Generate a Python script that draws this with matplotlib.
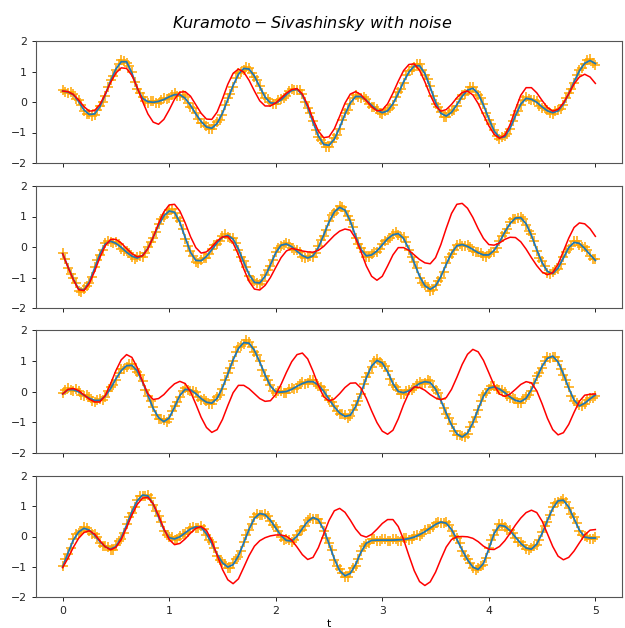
import numpy as np
import matplotlib
matplotlib.use("Agg")
import matplotlib.pyplot as plt

# time axis limits
t_start, t_end = 0.0, 5.0

# ---- panel 1 ----
true1 = [0.36,0.33,0.24,0.02,-0.26,-0.41,-0.39,-0.15,0.24,0.69,
         1.08,1.32,1.32,0.95,0.45,0.12,0.01,-0.01,0.02,0.08,
         0.17,0.24,0.24,0.12,-0.11,-0.39,-0.64,-0.82,-0.86,-0.70,
         -0.37,0.08,0.54,0.91,1.10,1.08,0.85,0.50,0.16,-0.03,
         -0.04,0.07,0.24,0.38,0.42,0.23,-0.17,-0.66,-1.11,-1.39,
         -1.42,-1.22,-0.84,-0.40,-0.03,0.18,0.18,0.06,-0.11,-0.27,
         -0.35,-0.29,-0.06,0.28,0.66,0.98,1.18,1.19,0.93,0.48,
         -0.01,-0.37,-0.46,-0.34,-0.09,0.19,0.39,0.45,0.27,-0.10,
         -0.55,-0.95,-1.17,-1.14,-0.86,-0.45,-0.07,0.12,0.09,-0.01,
         -0.16,-0.29,-0.35,-0.29,-0.07,0.27,0.66,1.02,1.27,1.36,1.26]
# noisy observations on the grid points
obs1 = [0.39,0.30,0.27,0.05,-0.30,-0.38,-0.44,-0.12,0.20,0.73,
        1.05,1.37,1.29,0.99,0.41,0.15,-0.03,0.03,-0.02,0.12,
        0.14,0.28,0.20,0.15,-0.15,-0.35,-0.68,-0.78,-0.90,-0.66,
        -0.41,0.12,0.50,0.95,1.06,1.13,0.81,0.54,0.12,0.01,
        -0.08,0.10,0.20,0.42,0.38,0.27,-0.21,-0.62,-1.15,-1.35,
        -1.47,-1.18,-0.88,-0.36,-0.07,0.22,0.14,0.10,-0.15,-0.23,
        -0.39,-0.25,-0.10,0.32,0.62,1.02,1.14,1.23,0.89,0.52,
        -0.05,-0.33,-0.50,-0.30,-0.13,0.23,0.35,0.49,0.23,-0.06,
        -0.59,-0.91,-1.21,-1.10,-0.90,-0.41,-0.11,0.16,0.05,0.03,
        -0.20,-0.25,-0.39,-0.25,-0.11,0.31,0.62,1.06,1.23,1.40,1.22]
# noisy observations halfway between grid points
obs1_mid = [0.32,0.32,0.11,-0.09,-0.38,-0.45,-0.25,0.01,0.50,0.86,
            1.26,1.33,1.19,0.66,0.30,0.02,0.04,-0.03,0.08,0.09,
            0.24,0.21,0.23,-0.03,-0.21,-0.55,-0.70,-0.89,-0.76,-0.58,
            -0.11,0.27,0.78,0.98,1.16,0.94,0.72,0.28,0.09,-0.08,
            0.05,0.12,0.35,0.38,0.39,0.00,-0.37,-0.93,-1.23,-1.47,
            -1.30,-1.07,-0.58,-0.25,0.12,0.17,0.16,-0.06,-0.15,-0.36,
            -0.30,-0.21,0.15,0.43,0.87,1.05,1.25,1.04,0.75,0.19,
            -0.17,-0.48,-0.37,-0.25,0.09,0.26,0.48,0.34,0.13,-0.36,
            -0.72,-1.12,-1.15,-1.06,-0.62,-0.30,0.07,0.09,0.08,-0.12,
            -0.19,-0.37,-0.30,-0.22,0.14,0.43,0.89,1.12,1.37,1.29]
pred1 = [0.36,0.34,0.25,0.07,-0.15,-0.30,-0.28,-0.08,0.26,0.64,
         0.95,1.12,1.10,0.87,0.48,0.02,-0.39,-0.66,-0.73,-0.57,
         -0.26,0.09,0.32,0.34,0.19,-0.09,-0.37,-0.56,-0.57,-0.33,
         0.10,0.58,0.94,1.08,0.98,0.71,0.36,0.04,-0.13,-0.13,
         -0.03,0.13,0.29,0.41,0.44,0.26,-0.10,-0.56,-0.95,-1.17,
         -1.14,-0.88,-0.47,-0.04,0.26,0.34,0.24,0.04,-0.16,-0.29,
         -0.26,-0.06,0.29,0.68,1.03,1.23,1.25,1.04,0.66,0.23,
         -0.13,-0.30,-0.25,-0.08,0.14,0.31,0.36,0.23,-0.05,-0.42,
         -0.78,-1.06,-1.19,-1.09,-0.74,-0.24,0.22,0.47,0.47,0.30,
         0.05,-0.18,-0.30,-0.24,-0.03,0.27,0.59,0.82,0.91,0.82,0.61]

# ---- panel 2 ----
true2 = [-0.22,-0.65,-1.05,-1.38,-1.41,-1.15,-0.70,-0.23,0.10,0.19,
         0.12,-0.01,-0.17,-0.30,-0.36,-0.28,-0.04,0.32,0.71,1.02,
         1.18,1.14,0.81,0.31,-0.17,-0.44,-0.45,-0.31,-0.09,0.14,
         0.32,0.38,0.26,-0.07,-0.50,-0.90,-1.16,-1.18,-0.96,-0.59,
         -0.19,0.06,0.10,0.01,-0.14,-0.28,-0.36,-0.29,-0.02,0.39,
         0.82,1.15,1.30,1.21,0.85,0.35,-0.08,-0.29,-0.26,-0.13,
         0.07,0.27,0.40,0.44,0.28,-0.07,-0.52,-0.96,-1.27,-1.39,
         -1.28,-0.97,-0.57,-0.20,0.04,0.08,0.02,-0.08,-0.19,-0.26,
         -0.26,-0.11,0.16,0.49,0.77,0.95,0.96,0.76,0.38,-0.09,
         -0.51,-0.80,-0.87,-0.69,-0.36,-0.02,0.15,0.12,-0.05,-0.25,-0.44]
obs2 = [-0.19,-0.70,-1.01,-1.43,-1.37,-1.19,-0.66,-0.27,0.14,0.15,
        0.16,-0.05,-0.13,-0.34,-0.32,-0.32,0.00,0.28,0.75,0.98,
        1.22,1.10,0.85,0.27,-0.13,-0.48,-0.41,-0.35,-0.05,0.10,
        0.36,0.34,0.30,-0.11,-0.46,-0.94,-1.12,-1.22,-0.92,-0.63,
        -0.15,0.02,0.14,-0.03,-0.10,-0.32,-0.32,-0.33,0.02,0.35,
        0.86,1.11,1.34,1.17,0.89,0.31,-0.04,-0.33,-0.22,-0.17,
        0.11,0.23,0.44,0.40,0.32,-0.11,-0.48,-1.00,-1.23,-1.43,
        -1.24,-1.01,-0.53,-0.24,0.08,0.04,0.06,-0.12,-0.15,-0.30,
        -0.22,-0.15,0.20,0.45,0.81,0.91,1.00,0.72,0.42,-0.13,
        -0.47,-0.84,-0.83,-0.73,-0.32,-0.06,0.19,0.08,-0.01,-0.29,-0.40]
obs2_mid = [-0.40,-0.90,-1.19,-1.46,-1.27,-0.97,-0.42,-0.10,0.20,0.13,
            0.09,-0.13,-0.20,-0.38,-0.30,-0.21,0.18,0.48,0.92,1.08,
            1.23,0.96,0.60,0.02,-0.28,-0.52,-0.35,-0.24,0.07,0.20,
            0.41,0.30,0.14,-0.33,-0.67,-1.09,-1.17,-1.13,-0.74,-0.43,
            -0.02,0.06,0.10,-0.10,-0.17,-0.37,-0.30,-0.20,0.22,0.57,
            1.04,1.21,1.32,1.01,0.64,0.09,-0.17,-0.33,-0.16,-0.07,
            0.21,0.30,0.48,0.34,0.15,-0.33,-0.70,-1.17,-1.31,-1.40,
            -1.10,-0.81,-0.34,-0.11,0.11,0.02,0.01,-0.18,-0.19,-0.32,
            -0.16,-0.02,0.37,0.60,0.92,0.94,0.92,0.54,0.19,-0.35,
            -0.63,-0.90,-0.76,-0.57,-0.15,0.04,0.19,0.00,-0.11,-0.39]
pred2 = [-0.22,-0.66,-1.07,-1.40,-1.43,-1.20,-0.80,-0.34,0.04,0.25,
         0.25,0.13,-0.05,-0.22,-0.32,-0.29,-0.06,0.32,0.77,1.15,
         1.38,1.40,1.18,0.79,0.34,-0.02,-0.20,-0.16,0.00,0.20,
         0.33,0.34,0.13,-0.25,-0.72,-1.13,-1.38,-1.41,-1.26,-1.00,
         -0.67,-0.35,-0.13,-0.05,-0.08,-0.13,-0.16,-0.17,-0.11,0.02,
         0.20,0.38,0.52,0.59,0.55,0.28,-0.15,-0.62,-0.96,-1.09,
         -0.96,-0.62,-0.26,-0.02,-0.02,-0.11,-0.26,-0.41,-0.52,-0.55,
         -0.35,0.08,0.61,1.10,1.40,1.43,1.27,0.97,0.60,0.28,
         0.08,0.06,0.13,0.25,0.32,0.31,0.17,-0.07,-0.35,-0.61,
         -0.82,-0.91,-0.84,-0.56,-0.14,0.29,0.64,0.79,0.76,0.60,0.35]

# ---- panel 3 ----
true3 = [-0.08,0.06,0.06,-0.01,-0.12,-0.22,-0.29,-0.29,-0.15,0.10,
         0.41,0.68,0.84,0.85,0.67,0.31,-0.12,-0.55,-0.85,-0.98,
         -0.86,-0.51,-0.13,0.07,0.05,-0.07,-0.23,-0.35,-0.38,-0.22,
         0.12,0.57,1.03,1.40,1.59,1.57,1.34,0.96,0.54,0.18,
         -0.01,-0.02,0.00,0.07,0.17,0.26,0.32,0.32,0.21,0.01,
         -0.25,-0.50,-0.70,-0.81,-0.77,-0.49,-0.05,0.44,0.83,1.01,
         0.93,0.64,0.26,0.00,-0.04,0.02,0.14,0.26,0.32,0.29,
         0.08,-0.29,-0.70,-1.09,-1.38,-1.48,-1.35,-1.02,-0.57,-0.15,
         0.11,0.15,0.08,-0.04,-0.18,-0.29,-0.33,-0.22,0.06,0.45,
         0.82,1.08,1.15,0.96,0.57,0.11,-0.28,-0.47,-0.38,-0.24,-0.11]
obs3 = [-0.05,0.10,0.02,0.03,-0.16,-0.18,-0.33,-0.25,-0.19,0.14,
        0.37,0.72,0.80,0.89,0.63,0.35,-0.16,-0.51,-0.89,-0.94,
        -0.90,-0.47,-0.17,0.11,0.01,-0.03,-0.27,-0.31,-0.42,-0.18,
        0.08,0.61,0.99,1.44,1.55,1.61,1.30,1.00,0.50,0.22,
        -0.05,0.02,-0.04,0.11,0.13,0.30,0.28,0.36,0.17,0.05,
        -0.29,-0.46,-0.74,-0.77,-0.81,-0.45,-0.09,0.48,0.79,1.05,
        0.89,0.68,0.22,0.04,-0.08,0.06,0.10,0.30,0.28,0.33,
        0.04,-0.25,-0.74,-1.05,-1.42,-1.44,-1.39,-0.98,-0.61,-0.11,
        0.07,0.19,0.04,0.00,-0.22,-0.25,-0.37,-0.18,0.02,0.49,
        0.78,1.12,1.11,1.00,0.53,0.15,-0.32,-0.43,-0.42,-0.20,-0.15]
obs3_mid = [0.04,0.05,0.07,-0.10,-0.13,-0.30,-0.27,-0.27,0.01,0.21,
            0.59,0.73,0.90,0.74,0.54,0.06,-0.30,-0.76,-0.90,-0.98,
            -0.65,-0.35,0.02,0.04,0.03,-0.19,-0.26,-0.42,-0.28,-0.10,
            0.38,0.76,1.27,1.48,1.66,1.44,1.20,0.71,0.39,0.03,
            0.02,-0.05,0.07,0.08,0.26,0.26,0.37,0.23,0.15,-0.16,
            -0.34,-0.65,-0.73,-0.85,-0.61,-0.31,0.24,0.61,0.98,0.96,
            0.84,0.41,0.15,-0.08,0.02,0.04,0.24,0.26,0.36,0.16,
            -0.06,-0.53,-0.86,-1.29,-1.41,-1.48,-1.16,-0.84,-0.32,-0.05,
            0.18,0.08,0.06,-0.15,-0.20,-0.36,-0.25,-0.13,0.29,0.60,
            1.00,1.09,1.12,0.74,0.38,-0.14,-0.36,-0.48,-0.27,-0.21]
pred3 = [-0.08,0.07,0.10,0.03,-0.11,-0.25,-0.34,-0.34,-0.13,0.25,
         0.68,1.03,1.20,1.11,0.78,0.33,-0.07,-0.26,-0.23,-0.10,
         0.09,0.25,0.33,0.26,-0.01,-0.41,-0.84,-1.17,-1.33,-1.24,
         -0.91,-0.46,-0.04,0.20,0.20,0.09,-0.07,-0.23,-0.32,-0.30,
         -0.10,0.23,0.62,0.97,1.20,1.25,1.06,0.66,0.20,-0.17,
         -0.31,-0.24,-0.07,0.13,0.27,0.28,0.11,-0.22,-0.63,-1.01,
         -1.29,-1.39,-1.26,-0.89,-0.43,-0.04,0.15,0.13,0.04,-0.10,
         -0.21,-0.27,-0.20,0.07,0.46,0.88,1.21,1.37,1.29,1.01,
         0.61,0.20,-0.08,-0.16,-0.08,0.07,0.23,0.32,0.28,0.02,
         -0.40,-0.87,-1.24,-1.41,-1.34,-1.07,-0.68,-0.32,-0.12,-0.09,-0.08]

# ---- panel 4 ----
true4 = [-1.01,-0.55,-0.12,0.15,0.27,0.21,0.04,-0.17,-0.34,-0.42,
         -0.33,-0.04,0.37,0.82,1.18,1.37,1.34,1.07,0.65,0.23,
         -0.04,-0.08,-0.01,0.12,0.25,0.32,0.30,0.09,-0.23,-0.59,
         -0.87,-1.01,-0.93,-0.64,-0.21,0.24,0.60,0.76,0.72,0.54,
         0.28,0.03,-0.13,-0.15,0.01,0.26,0.50,0.63,0.55,0.23,
         -0.24,-0.74,-1.13,-1.30,-1.22,-0.92,-0.52,-0.22,-0.13,-0.12,
         -0.12,-0.12,-0.12,-0.11,-0.10,-0.07,-0.02,0.06,0.16,0.28,
         0.40,0.48,0.44,0.23,-0.09,-0.45,-0.77,-1.01,-1.09,-0.89,
         -0.41,0.10,0.37,0.34,0.19,-0.02,-0.23,-0.38,-0.42,-0.25,
         0.10,0.53,0.93,1.18,1.20,0.97,0.59,0.21,-0.02,-0.05,-0.05]
obs4 = [-0.98,-0.59,-0.08,0.11,0.31,0.17,0.08,-0.21,-0.30,-0.46,
        -0.29,-0.08,0.41,0.78,1.22,1.33,1.38,1.03,0.69,0.19,
        0.00,-0.12,0.03,0.08,0.29,0.28,0.34,0.05,-0.19,-0.63,
        -0.83,-1.05,-0.89,-0.68,-0.17,0.20,0.64,0.72,0.76,0.50,
        0.32,-0.01,-0.09,-0.19,0.05,0.22,0.54,0.59,0.59,0.19,
        -0.20,-0.78,-1.09,-1.34,-1.18,-0.96,-0.48,-0.26,-0.09,-0.16,
        -0.08,-0.16,-0.08,-0.15,-0.06,-0.11,0.02,0.02,0.20,0.24,
        0.44,0.44,0.48,0.19,-0.05,-0.49,-0.73,-1.05,-1.05,-0.93,
        -0.37,0.06,0.41,0.30,0.23,-0.06,-0.19,-0.42,-0.38,-0.29,
        0.14,0.49,0.97,1.14,1.24,0.93,0.63,0.17,0.02,-0.09,-0.01]
obs4_mid = [-0.74,-0.37,0.07,0.18,0.29,0.09,-0.03,-0.30,-0.35,-0.43,
            -0.16,0.12,0.64,0.97,1.34,1.34,1.26,0.83,0.48,0.04,
            -0.03,-0.09,0.09,0.15,0.33,0.29,0.25,-0.11,-0.37,-0.79,
            -0.92,-1.03,-0.76,-0.47,0.06,0.40,0.74,0.72,0.68,0.38,
            0.19,-0.10,-0.12,-0.12,0.17,0.34,0.62,0.57,0.45,-0.04,
            -0.45,-0.99,-1.20,-1.33,-1.05,-0.76,-0.32,-0.20,-0.08,-0.16,
            -0.08,-0.16,-0.07,-0.14,-0.05,-0.09,0.06,0.07,0.26,0.30,
            0.49,0.44,0.39,0.03,-0.23,-0.66,-0.86,-1.11,-0.98,-0.70,
            -0.11,0.22,0.42,0.23,0.13,-0.17,-0.27,-0.46,-0.32,-0.12,
            0.35,0.70,1.12,1.18,1.15,0.75,0.44,0.04,-0.01,-0.09]
pred4 = [-1.03,-0.72,-0.36,-0.06,0.13,0.19,0.08,-0.14,-0.34,-0.44,
         -0.36,-0.10,0.29,0.71,1.06,1.27,1.29,1.08,0.70,0.26,
         -0.10,-0.27,-0.23,-0.08,0.11,0.27,0.33,0.20,-0.14,-0.62,
         -1.09,-1.43,-1.56,-1.40,-1.02,-0.63,-0.32,-0.14,-0.04,0.02,
         0.05,0.05,0.01,-0.12,-0.35,-0.60,-0.76,-0.69,-0.37,0.08,
         0.53,0.85,0.93,0.80,0.54,0.25,0.04,-0.02,0.07,0.24,
         0.43,0.56,0.56,0.33,-0.10,-0.63,-1.13,-1.49,-1.62,-1.50,
         -1.18,-0.75,-0.35,-0.10,-0.01,0.00,-0.01,-0.06,-0.17,-0.32,
         -0.42,-0.43,-0.33,-0.14,0.11,0.38,0.61,0.79,0.87,0.79,
         0.51,0.09,-0.33,-0.65,-0.77,-0.69,-0.48,-0.21,0.05,0.21,0.23]

panels = [(true1, obs1, obs1_mid, pred1), (true2, obs2, obs2_mid, pred2),
          (true3, obs3, obs3_mid, pred3), (true4, obs4, obs4_mid, pred4)]

title = r"$Kuramoto-Sivashinsky\ with\ noise$"
xlabel = "t"
yticks = [-2, -1, 0, 1, 2]
xticks = [0, 1, 2, 3, 4, 5]

W, H = 625, 628
fig = plt.figure(figsize=(W / 100, H / 100), dpi=100)

# axes boxes in pixels: (top, bottom)
boxes = [(41, 163), (186, 308), (330, 453), (476, 597)]
left_px, right_px = 36, 622

axes = []
for i, ((top, bot), (tr, ob, obm, pr)) in enumerate(zip(boxes, panels)):
    ax = fig.add_axes([left_px / W, 1 - bot / H, (right_px - left_px) / W, (bot - top) / H],
                      sharex=axes[0] if axes else None)
    axes.append(ax)
    t_tr = np.linspace(t_start, t_end, len(tr))
    t_ob = np.linspace(t_start, t_end, len(ob))
    t_obm = 0.5 * (t_ob[:-1] + t_ob[1:])
    t_pr = np.linspace(t_start, t_end, len(pr))
    t_all = np.concatenate([t_ob, t_obm])
    o_all = np.concatenate([ob, obm])
    ax.plot(t_all, o_all, linestyle="none", marker="+", color="orange",
            markersize=6.5, markeredgewidth=1.1, zorder=1)
    ax.plot(t_tr, tr, color="#1f77b4", linewidth=1.3, zorder=2)
    ax.plot(t_pr, pr, color="red", linewidth=1.1, zorder=3)
    ax.set_ylim(-2, 2)
    ax.set_yticks(yticks)
    ax.set_xticks(xticks)
    ax.tick_params(labelsize=7.8, length=3, width=0.7, colors="#222222")
    for s in ax.spines.values():
        s.set_linewidth(0.8)
        s.set_color("#555555")
    if i < 3:
        ax.tick_params(labelbottom=False)

axes[-1].set_xlim(-0.25, 5.25)
axes[-1].set_xlabel(xlabel, fontsize=7.8, labelpad=2)
fig.suptitle(title, fontsize=11.5, y=0.978)

fig.savefig("out.png", dpi=100)
